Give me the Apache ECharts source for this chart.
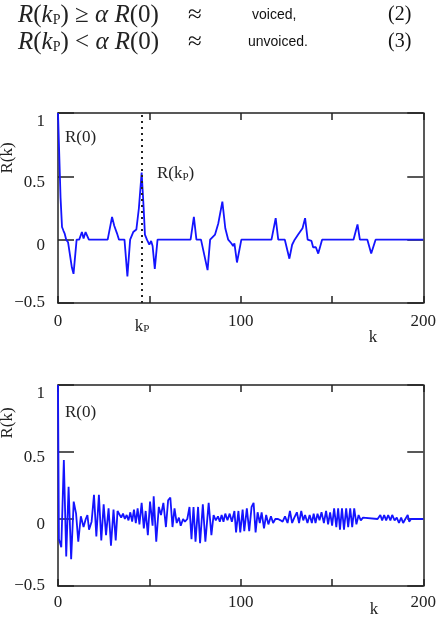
<!DOCTYPE html>
<html>
<head>
<meta charset="utf-8">
<title>Autocorrelation, voiced / unvoiced</title>
<script src="https://cdn.jsdelivr.net/npm/echarts@6/dist/echarts.min.js"></script>
<style>
    html, body { margin: 0; padding: 0; background: #fff; }
    #chart { width: 439px; height: 621px; }
</style>
</head>
<body>
<div id="chart"></div>
<script>
// Voiced frame (top plot): breakpoints of R(k)
var voicedK = [0, 1.4, 2.2, 3.0, 3.6, 4.5, 5.5, 7.6, 8.5, 10.2, 11.6, 13.1, 14.0, 15.1, 16.1, 16.9,
    27.2, 29.6, 30.8, 32.3, 33.4, 36.4, 38.0, 39.5, 41.2, 42.9, 44.3, 45.8, 46.9, 47.6, 48.7,
    50.0, 51.0, 51.8, 53.0, 54.5, 72.6, 74.4, 75.8, 78.3, 81.9, 83.3, 86.0, 87.8, 90.0, 91.6,
    93.2, 95.0, 95.9, 96.6, 98.0, 100.4, 116.9, 119.2, 120.6, 124.2, 126.7, 128.2, 129.6, 131.5,
    133.9, 135.3, 136.7, 138.8, 139.7, 141.2, 142.5, 144.6, 161.8, 164.0, 165.3, 169.4, 171.5,
    173.9, 200];
var voicedR = [1.0, 0.33, 0.1, 0.07, 0.05, 0, -0.02, -0.22, -0.27, 0, 0, 0.06, 0.01, 0.06, 0.06, 0,
    0, 0.18, 0.11, 0.05, 0, 0, -0.29, 0, 0.06, 0.08, 0.25, 0.53, 0.25, 0.04, 0,
    -0.04, -0.01, -0.05, -0.23, 0, 0, 0.18, 0, 0, -0.24, 0, 0.04, 0.13, 0.3, 0.09,
    0, -0.03, -0.05, -0.03, -0.18, 0, 0, 0.17, 0, 0, -0.15, -0.04, 0, 0.04,
    0.09, 0.17, 0, -0.01, -0.06, -0.06, -0.11, 0, 0, 0.12, 0, 0, -0.11,
    0, 0];

// Unvoiced frame (bottom plot)
var unvoicedK = [0, 0.5, 1.8, 3.2, 4.5, 5.8, 7.2, 8.6, 9.9, 11.1, 12.5, 14.0, 15.2, 16.1, 17.0, 18.4,
    19.7, 21.0, 22.4, 23.7, 25.0, 26.3, 27.7, 29.0, 30.4, 31.6, 32.6, 33.6, 34.6, 35.6, 36.6,
    37.6, 38.6, 39.6, 40.6, 41.6, 42.6, 43.6, 44.6, 45.8, 47.0, 48.0, 49.2, 50.4, 51.8, 52.4,
    53.8, 55.2, 56.4, 57.7, 59.1, 60.3, 61.5, 62.7, 63.8, 65.0, 66.2, 67.2, 68.5, 69.5, 70.8,
    72.0, 73.1, 74.2, 75.3, 76.7, 77.8, 79.3, 80.7, 82.5, 84.0, 85.2, 86.4, 87.6, 88.6, 89.6,
    90.6, 91.6, 92.8, 94.0, 95.2, 96.6, 97.5, 98.8, 99.8, 101.1, 102.0, 103.4, 104.7, 106.0,
    107.1, 108.2, 109.3, 110.5, 111.5, 112.8, 114.0, 115.2, 116.6, 117.8, 119.0, 120.5, 121.9,
    123.0, 124.3, 125.7, 127.0, 128.2, 129.4, 130.8, 132.0, 133.2, 134.3, 135.3, 136.6, 137.8,
    139.0, 140.0, 141.0, 142.1, 143.2, 144.3, 145.6, 146.8, 147.9, 149.0, 150.1, 151.2, 152.4,
    153.4, 154.4, 155.5, 156.6, 157.8, 158.9, 160.0, 161.1, 162.2, 163.4, 164.6, 165.8, 167.0,
    168.0, 175.0, 176.5, 177.5, 178.6, 179.7, 180.8, 182.0, 183.0, 184.3, 185.5, 186.7, 187.9,
    189.0, 190.2, 191.5, 192.3, 193.3, 200];
var unvoicedR = [1.0, -0.15, -0.21, 0.44, -0.28, 0.24, -0.3, 0.13, 0.04, -0.17, 0.02, -0.06, 0.0, 0.03, -0.08, -0.02,
    0.18, -0.13, 0.18, -0.16, 0.11, -0.12, 0.08, -0.2, 0.07, -0.16, 0.06, 0.06, 0.01, 0.04, 0.0,
    0.03, -0.01, 0.05, -0.02, 0.07, -0.03, 0.08, -0.04, 0.12, -0.07, 0.06, -0.12, 0.13, -0.05, 0.17,
    -0.17, 0.09, 0.03, 0.12, -0.06, 0.14, 0.16, -0.06, 0.08, -0.03, 0.01, -0.05, 0.0, -0.02, 0.0,
    0.09, -0.15, 0.09, -0.17, 0.09, -0.18, 0.11, -0.17, 0.12, -0.12, 0.03, -0.01, 0.02, -0.02, 0.03,
    -0.02, 0.04, -0.01, 0.04, -0.02, 0.06, -0.1, 0.06, -0.1, 0.07, -0.09, 0.08, -0.09, 0.09,
    0.12, -0.1, 0.05, -0.03, 0.05, -0.07, 0.03, -0.04, 0.02, -0.03, 0.0, 0.0, -0.01,
    -0.02, 0.02, -0.03, 0.06, -0.03, 0.01, 0.05, -0.03, 0.06, -0.01, 0.03, -0.03, 0.03,
    -0.03, 0.04, -0.03, 0.04, -0.01, 0.05, -0.03, 0.06, -0.04, 0.05, -0.05, 0.08, -0.06,
    0.08, -0.08, 0.08, -0.08, 0.08, -0.06, 0.08, -0.06, 0.08, -0.04, 0.03, -0.01, 0.01,
    0.0, 0.0, 0.03, -0.01, 0.03, -0.01, 0.03, -0.01, 0.03, -0.01, 0.01, -0.03, 0.01,
    -0.03, 0.0, 0.03, -0.02, 0.0, 0.0];

var kP = 46;                       // pitch lag marked in the voiced plot
var xLabelValues = [0, 100, 200];  // only these ticks carry a label
var xRange = [0, 200];
var yRange = [-0.5, 1];

var serif = "'Liberation Serif', 'Times New Roman', serif";
var sans = "'Liberation Sans', Arial, sans-serif";
var ink = '#222';
var lineBlue = '#1414ff';

function pairs(xs, ys) {
    return xs.map(function (x, i) { return [x, ys[i]]; });
}

// Axes for one framed box: labelled bottom/left plus bare top/right for the frame
function xAxes(grid, labelMargin) {
    var base = {
        type: 'value', gridIndex: grid, min: xRange[0], max: xRange[1], interval: 50,
        axisLine: { onZero: false, lineStyle: { color: ink, width: 1.5 } },
        axisTick: { inside: true, length: 7, lineStyle: { color: ink, width: 1.5 } },
        splitLine: { show: false }
    };
    var bottom = Object.assign({}, base, {
        position: 'bottom',
        axisLabel: {
            margin: labelMargin, fontFamily: serif, fontSize: 17, color: ink,
            formatter: function (v) { return xLabelValues.indexOf(v) >= 0 ? String(v) : ''; }
        }
    });
    var top = Object.assign({}, base, { position: 'top', axisLabel: { show: false } });
    return [bottom, top];
}

// the printed y labels sit a little below their ticks, except the lowest one
var yLabelRich = {
    lo: { fontFamily: serif, fontSize: 17, color: ink },
    mid: { fontFamily: serif, fontSize: 17, color: ink, padding: [12, 0, 0, 0] },
    hi: { fontFamily: serif, fontSize: 17, color: ink, padding: [17, 0, 0, 0] }
};

function yAxes(grid) {
    var base = {
        type: 'value', gridIndex: grid, min: yRange[0], max: yRange[1], interval: 0.5,
        axisLine: { onZero: false, lineStyle: { color: ink, width: 1.5 } },
        axisTick: { inside: true, length: 16, lineStyle: { color: ink, width: 1.5 } },
        splitLine: { show: false }
    };
    var left = Object.assign({}, base, {
        position: 'left',
        axisLabel: {
            margin: 13, rich: yLabelRich,
            formatter: function (v) {
                if (v < 0) return '{lo|\u2212' + Math.abs(v) + '}';
                if (v >= 1) return '{hi|' + v + '}';
                return '{mid|' + v + '}';
            }
        }
    });
    var right = Object.assign({}, base, { position: 'right', axisLabel: { show: false } });
    return [left, right];
}

function txt(x, y, text, size, extra) {
    return {
        type: 'text', x: x, y: y, silent: true,
        style: Object.assign({
            text: text, fontFamily: serif, fontSize: size, fill: ink,
            textAlign: 'left', textVerticalAlign: 'middle'
        }, extra || {})
    };
}

var eqRich = {
    i: { fontFamily: serif, fontStyle: 'italic', fontSize: 25, color: '#111', verticalAlign: 'bottom' },
    n: { fontFamily: serif, fontSize: 25, color: '#111', verticalAlign: 'bottom' },
    s: { fontFamily: serif, fontSize: 14, color: '#111', verticalAlign: 'bottom' }
};
var labRich = {
    n: { fontFamily: serif, fontSize: 17, color: ink, verticalAlign: 'bottom' },
    s: { fontFamily: serif, fontSize: 11, color: ink, verticalAlign: 'bottom' }
};

var chart = echarts.init(document.getElementById('chart'));

var option = {
    animation: false,
    backgroundColor: '#fff',
    grid: [
        { left: 58, right: 9, top: 113, height: 190 },
        { left: 58, right: 9, top: 385, height: 201 }
    ],
    xAxis: xAxes(0, 10).concat(xAxes(1, 8)),
    yAxis: yAxes(0).concat(yAxes(1)),
    series: [
        {
            name: 'voiced', type: 'line', xAxisIndex: 0, yAxisIndex: 0,
            data: pairs(voicedK, voicedR), showSymbol: false,
            lineStyle: { color: lineBlue, width: 1.8 },
            markLine: {
                silent: true, symbol: 'none',
                lineStyle: { color: ink, type: [2, 4], width: 2 },
                label: {
                    show: true, position: 'start', distance: 15,
                    formatter: '{n|k}{s|P}', rich: labRich
                },
                data: [{ xAxis: kP }]
            }
        },
        {
            name: 'unvoiced', type: 'line', xAxisIndex: 2, yAxisIndex: 2,
            data: pairs(unvoicedK, unvoicedR), showSymbol: false,
            lineStyle: { color: lineBlue, width: 1.8 }
        }
    ],
    graphic: [
        // the two decision rules above the plots
        txt(18, 15, '{i|R}{n|(}{i|k}{s|P}{n|) \u2265 }{i|\u03b1 R}{n|(0)}', 25, { rich: eqRich }),
        txt(188, 15, '\u2248', 25, { fill: '#111' }),
        txt(252, 15, 'voiced,', 14, { fontFamily: sans, fill: '#111' }),
        txt(388, 15, '(2)', 20, { fill: '#111' }),
        txt(18, 42, '{i|R}{n|(}{i|k}{s|P}{n|) < }{i|\u03b1 R}{n|(0)}', 25, { rich: eqRich }),
        txt(188, 42, '\u2248', 25, { fill: '#111' }),
        txt(248, 42, 'unvoiced.', 14, { fontFamily: sans, fill: '#111' }),
        txt(388, 42, '(3)', 20, { fill: '#111' }),

        // plot annotations
        txt(65, 138, 'R(0)', 17),
        txt(157, 174, '{n|R(k}{s|P}{n|)}', 17, { rich: labRich }),
        txt(65, 413, 'R(0)', 17),
        txt(373, 338, 'k', 17, { textAlign: 'center' }),
        txt(374, 610, 'k', 17, { textAlign: 'center' }),
        { type: 'text', x: 8, y: 158, rotation: Math.PI / 2, silent: true,
          style: { text: 'R(k)', fontFamily: serif, fontSize: 17, fill: ink,
                   textAlign: 'center', textVerticalAlign: 'middle' } },
        { type: 'text', x: 8, y: 423, rotation: Math.PI / 2, silent: true,
          style: { text: 'R(k)', fontFamily: serif, fontSize: 17, fill: ink,
                   textAlign: 'center', textVerticalAlign: 'middle' } }
    ]
};

chart.setOption(option);
</script>
</body>
</html>
